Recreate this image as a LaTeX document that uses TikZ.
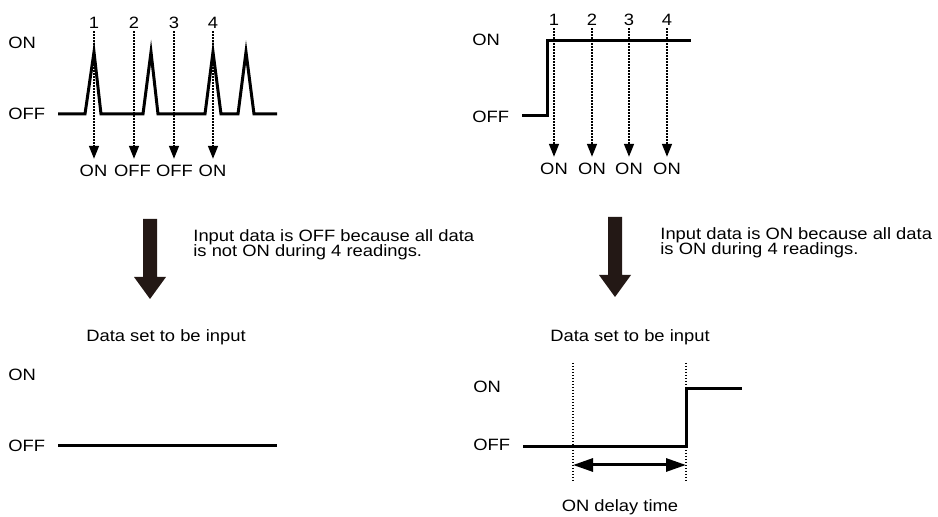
\documentclass[tikz,border=0pt]{standalone}
\usepackage{fontspec}
\setmainfont{Liberation Sans}[FakeStretch=1.12]
\usetikzlibrary{arrows.meta}
\definecolor{sigblack}{HTML}{000000}
\definecolor{bigdark}{HTML}{231815}

\begin{document}
\begin{tikzpicture}[x=0.5pt, y=-0.5pt,
        lbl/.style={font=\fontsize{8.2}{7.8}\selectfont, text=sigblack, inner sep=0pt},
        lvl/.style={lbl, anchor=west},
        note/.style={lbl, anchor=north west, align=left},
        wave/.style={draw=sigblack, line width=1.5pt, line join=miter},
        readarrow/.style={draw=sigblack, line width=0.75pt, dash pattern=on 0.75pt off 0.75pt,
          shorten <=1pt, shorten >=3pt, -{Triangle[width=5pt,length=6.5pt]}},
        bigarrow/.style={fill=bigdark},
      ]
      \useasboundingbox (0,0) rectangle (938,517);

      % Left: noisy input sampled 4 times
      \node[lvl] (lon) at (8,43) {ON};
      \node[lvl] (loff) at (8,114) {OFF};
      \draw[wave] (58,114) -- (85,114) -- (94,52) -- (101,114) -- (143,114)
        -- (151,52) -- (158,114) -- (205,114) -- (213,52) -- (221,114)
        -- (238,114) -- (246,52) -- (254,114) -- (277,114);

      \node[lbl] (ln1) at (94,23) {1};
      \node[lbl] (ln2) at (134,23) {2};
      \node[lbl] (ln3) at (174,23) {3};
      \node[lbl] (ln4) at (213,23) {4};
      \node[lbl] (lr1) at (93.5,171) {ON};
      \node[lbl] (lr2) at (132.5,171) {OFF};
      \node[lbl] (lr3) at (174.5,171) {OFF};
      \node[lbl] (lr4) at (212.5,171) {ON};
      \foreach \i in {1,...,4}
        \draw[readarrow] (ln\i.south) -- (ln\i.south |- lr\i.north);

      % Right: steady input sampled 4 times
      \node[lvl] (ron) at (472,40) {ON};
      \node[lvl] (roff) at (472,117) {OFF};
      \draw[wave] (522,116) -- (547,116) -- (547,41) -- (691,41);

      \node[lbl] (rn1) at (554,20) {1};
      \node[lbl] (rn2) at (592,20) {2};
      \node[lbl] (rn3) at (629,20) {3};
      \node[lbl] (rn4) at (667,20) {4};
      \node[lbl] (rr1) at (554,169) {ON};
      \node[lbl] (rr2) at (592,169) {ON};
      \node[lbl] (rr3) at (629,169) {ON};
      \node[lbl] (rr4) at (667,169) {ON};
      \foreach \i in {1,...,4}
        \draw[readarrow] (rn\i.south) -- (rn\i.south |- rr\i.north);

      % Big arrows and notes
      \fill[bigarrow] (143,219) -- (157,219) -- (157,277) -- (166,277)
        -- (150,299) -- (134,277) -- (143,277) -- cycle;
      \fill[bigarrow] (608,217) -- (622,217) -- (622,275) -- (631,275)
        -- (615,297) -- (599,275) -- (608,275) -- cycle;
      \node[note] (lnote) at (193,229) {Input data is OFF because all data\\is not ON during 4 readings.};
      \node[note] (rnote) at (660,227) {Input data is ON because all data\\is ON during 4 readings.};

      \node[lbl] (lset) at (166,337) {Data set to be input};
      \node[lbl] (rset) at (630,337) {Data set to be input};

      % Left result
      \node[lvl] (lbon) at (8,375) {ON};
      \node[lvl] (lboff) at (8,446) {OFF};
      \draw[wave] (58,446) -- (277,446);

      % Right result with delay
      \node[lvl] (rbon) at (473,387) {ON};
      \node[lvl] (rboff) at (473,445) {OFF};
      \draw[wave] (523,447) -- (686,447) -- (686,389) -- (742,389);
      \coordinate (dstart) at (573,465);
      \coordinate (dend) at (686,465);
      \draw[draw=sigblack, line width=0.75pt, dash pattern=on 0.75pt off 0.75pt]
        (573,363) -- (573,482);
      \draw[draw=sigblack, line width=0.75pt, dash pattern=on 0.75pt off 0.75pt]
        (686,363) -- (686,482);
      \draw[draw=sigblack, line width=1.5pt,
            {Triangle[width=6.5pt,length=10pt]}-{Triangle[width=6.5pt,length=10pt]}]
        (dstart) -- (dend);
      \node[lbl] (delay) at (620,507) {ON delay time};
    \end{tikzpicture}
\end{document}
